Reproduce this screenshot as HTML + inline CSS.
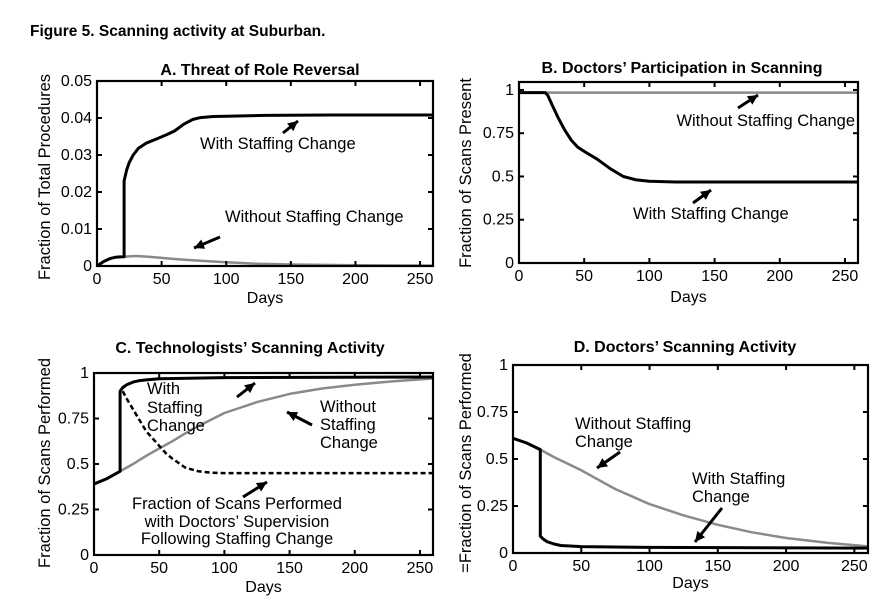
<!DOCTYPE html>
<html><head><meta charset="utf-8"><style>
body{margin:0;background:#fff;}
svg{display:block;font-family:"Liberation Sans",Arial,sans-serif;}
</style></head><body>
<svg id="fig" width="893" height="607" viewBox="0 0 893 607">
<text x="30" y="36" font-size="15.5" font-weight="bold">Figure 5. Scanning activity at Suburban.</text>
</svg>
<script>
// ---- data (days, values) ----
const aDays = [0,5,10,15,20,21,21,23,25,28,32,38,45,52,60,67,74,80,90,100,130,180,260];
const aWith = [0,0.0012,0.002,0.0024,0.0025,0.0025,0.023,0.026,0.028,0.030,0.0318,0.0332,0.0342,0.0352,0.0365,0.0383,0.0396,0.0401,0.0404,0.0405,0.0407,0.0408,0.0408];
const aWoDays = [0,5,10,15,20,30,40,50,60,75,100,125,150,200,260];
const aWithout = [0,0.0012,0.002,0.0024,0.0025,0.0027,0.0025,0.0022,0.0019,0.0015,0.001,0.0006,0.0004,0.0002,0.0001];
const bDays = [0,20,22,25,30,35,40,45,50,60,70,80,90,100,120,260];
const bWith = [0.985,0.985,0.97,0.92,0.84,0.77,0.71,0.67,0.645,0.6,0.545,0.5,0.48,0.472,0.468,0.468];
const bWoDays = [0,260];
const bWithout = [0.985,0.985];
const cWoDays = [0,10,20,30,40,50,60,75,100,125,150,175,200,230,260];
const cWithout = [0.39,0.42,0.46,0.5,0.545,0.585,0.625,0.69,0.78,0.84,0.885,0.915,0.935,0.955,0.97];
const cDays = [0,10,20,20,22,25,30,35,40,50,100,260];
const cWith = [0.39,0.42,0.46,0.9,0.92,0.935,0.95,0.958,0.962,0.968,0.975,0.978];
const cDashDays = [22,25,30,35,40,45,50,55,60,70,80,90,100,260];
const cDash = [0.9,0.86,0.8,0.74,0.68,0.64,0.6,0.56,0.53,0.48,0.46,0.452,0.45,0.45];
const dWoDays = [0,10,20,30,50,75,100,125,150,175,200,230,260];
const dWithout = [0.61,0.585,0.55,0.51,0.44,0.34,0.26,0.2,0.15,0.11,0.08,0.055,0.035];
const dDays = [0,10,20,20,22,25,30,35,50,100,260];
const dWith = [0.61,0.585,0.55,0.09,0.075,0.06,0.048,0.04,0.034,0.03,0.026];
const xTicks = [0,50,100,150,200,250];
const aYTicks = [0,0.01,0.02,0.03,0.04,0.05];
const aYLabels = ["0","0.01","0.02","0.03","0.04","0.05"];
const pYTicks = [0,0.25,0.5,0.75,1];
const pYLabels = ["0","0.25","0.5","0.75","1"];

const NS="http://www.w3.org/2000/svg";
const svg=document.getElementById('fig');
function mk(tag,attrs,parent){const e=document.createElementNS(NS,tag);for(const k in attrs)e.setAttribute(k,attrs[k]);(parent||svg).appendChild(e);return e;}

function panel(p){
  const g=mk('g',{});
  
  
  const sx=v=>p.l+(v-0)/(260)*(p.r-p.l);
  const sy=v=>p.b-(v-p.y0)/(p.y1-p.y0)*(p.b-p.t);
  p.series.forEach(s=>{
    let d='';
    s.x.forEach((xv,i)=>{d+=(i?'L':'M')+sx(xv).toFixed(1)+','+sy(s.y[i]).toFixed(1);});
    const path=mk('path',{d:d,fill:'none',stroke:s.color,'stroke-width':s.w,'stroke-linejoin':'round'},g);
    if(s.dash)path.setAttribute('stroke-dasharray',s.dash);
    
    
  });
  const box=mk('rect',{x:p.l,y:p.t,width:p.r-p.l,height:p.b-p.t,fill:'none',stroke:'#000','stroke-width':2.2},g);
  
  
  xTicks.forEach(v=>{
    const x=sx(v);
    mk('line',{x1:x,y1:p.b,x2:x,y2:p.b-5,stroke:'#000','stroke-width':2},g);
    mk('line',{x1:x,y1:p.t,x2:x,y2:p.t+5,stroke:'#000','stroke-width':2},g);
    const t=mk('text',{x:x,y:p.b+18,'font-size':16,'text-anchor':'middle'},g);
    t.textContent=String(v);
    
    
  });
  p.yt.forEach((v,i)=>{
    const y=sy(v);
    mk('line',{x1:p.l,y1:y,x2:p.l+5,y2:y,stroke:'#000','stroke-width':2},g);
    mk('line',{x1:p.r,y1:y,x2:p.r-5,y2:y,stroke:'#000','stroke-width':2},g);
    const t=mk('text',{x:p.l-5,y:y+5,'font-size':16,'text-anchor':'end'},g);
    t.textContent=p.yl[i];
    
    
  });
  const tt=mk('text',{x:p.tx,y:p.ty,'font-size':16,'font-weight':'bold','text-anchor':'middle'},g);
  tt.textContent=p.title;
  
  
  const xl=mk('text',{x:(p.l+p.r)/2,y:p.xly,'font-size':16,'text-anchor':'middle'},g);
  xl.textContent='Days';
  
  
  const yl=mk('text',{x:0,y:0,'font-size':16.5,'text-anchor':'middle',transform:'translate('+p.ylx+','+p.yly+') rotate(-90)'},g);
  yl.textContent=p.ylabel;
  
  
  p.notes.forEach(n=>{
    const t=mk('text',{x:n[0],y:n[1],'font-size':16.5,'text-anchor':n[3]||'start'},g);
    t.textContent=n[2];
    
    
  });
  p.arrows.forEach(a=>{
    const [x1,y1,x2,y2]=a;
    mk('line',{x1:x1,y1:y1,x2:x2,y2:y2,stroke:'#000','stroke-width':3},g);
    const ang=Math.atan2(y2-y1,x2-x1),L=10,W=5;
    const bx=x2-L*Math.cos(ang),by=y2-L*Math.sin(ang);
    const pts=[[x2,y2],[bx-W*Math.sin(ang),by+W*Math.cos(ang)],[bx+W*Math.sin(ang),by-W*Math.cos(ang)]];
    const ar=mk('polygon',{points:pts.map(q=>q.join(',')).join(' '),fill:'#000'},g);
    
    
  });
}
const BLK='#000',GRY='#8a8a8a';
panel({id:'a',l:97,r:433,t:81,b:266,y0:0,y1:0.05,yt:aYTicks,yl:aYLabels,
  title:'A. Threat of Role Reversal',tx:260,ty:75,xly:303,ylx:50,yly:177,ylabel:'Fraction of Total Procedures',
  series:[{x:aWoDays,y:aWithout,color:GRY,w:2.5,name:'a-without-staffing-line'},{x:aDays,y:aWith,color:BLK,w:3,name:'a-with-staffing-line'}],
  notes:[[200,149,'With Staffing Change'],[225,222,'Without Staffing Change']],
  arrows:[[283,133,298,121],[220,237,194,248]]});
panel({id:'b',l:519,r:858,t:82,b:263,y0:0,y1:1.046,yt:pYTicks,yl:pYLabels,
  title:'B. Doctors\u2019 Participation in Scanning',tx:682,ty:73,xly:302,ylx:471,yly:173,ylabel:'Fraction of Scans Present',
  series:[{x:bWoDays,y:bWithout,color:GRY,w:2.5,name:'b-without-staffing-line'},{x:bDays,y:bWith,color:BLK,w:3,name:'b-with-staffing-line'}],
  notes:[[855,126,'Without Staffing Change','end'],[633,219,'With Staffing Change']],
  arrows:[[738,108,758,95],[693,203,711,190]]});
panel({id:'c',l:94,r:433,t:373,b:555,y0:0,y1:1,yt:pYTicks,yl:pYLabels,
  title:'C. Technologists\u2019 Scanning Activity',tx:250,ty:353,xly:592,ylx:50,yly:463,ylabel:'Fraction of Scans Performed',
  series:[{x:cWoDays,y:cWithout,color:GRY,w:2.5,name:'c-without-staffing-line'},{x:cDays,y:cWith,color:BLK,w:3,name:'c-with-staffing-line'},{x:cDashDays,y:cDash,color:BLK,w:2.5,dash:'5,3',name:'c-supervised-fraction-line'}],
  notes:[[147,394,'With'],[147,413,'Staffing'],[147,431,'Change'],[320,412,'Without'],[320,430,'Staffing'],[320,448,'Change'],
         [237,509,'Fraction of Scans Performed','middle'],[237,527,'with Doctors\u2019 Supervision','middle'],[237,544,'Following Staffing Change','middle']],
  arrows:[[237,397,255,383],[312,425,287,412],[243,497,267,482]]});
panel({id:'d',l:513,r:868,t:365,b:553,y0:0,y1:1,yt:pYTicks,yl:pYLabels,
  title:'D. Doctors\u2019 Scanning Activity',tx:685,ty:352,xly:588,ylx:471,yly:463,ylabel:'=Fraction of Scans Performed',
  series:[{x:dWoDays,y:dWithout,color:GRY,w:2.5,name:'d-without-staffing-line'},{x:dDays,y:dWith,color:BLK,w:3,name:'d-with-staffing-line'}],
  notes:[[575,429,'Without Staffing'],[575,447,'Change'],[692,484,'With Staffing'],[692,502,'Change']],
  arrows:[[620,452,597,468],[722,508,695,542]]});
</script>
</body></html>
